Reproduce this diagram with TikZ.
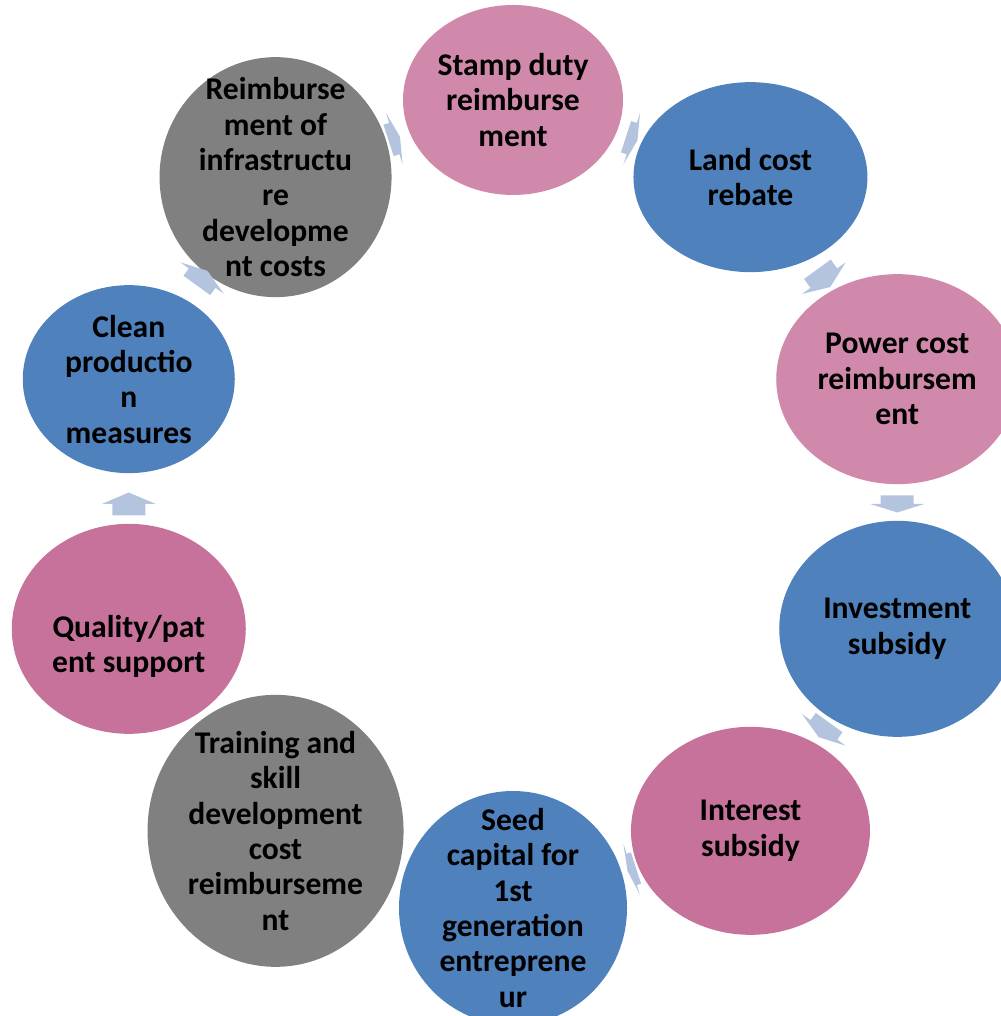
\documentclass[tikz,border=0pt]{standalone}
\usepackage{fontspec}
\setmainfont{Carlito}
\usetikzlibrary{shapes.geometric,calc}

\definecolor{pinklite}{RGB}{208,137,171}
\definecolor{pinkdeep}{RGB}{199,114,155}
\definecolor{bluemid}{RGB}{79,129,189}
\definecolor{greymid}{RGB}{128,128,128}
\definecolor{arrowblue}{RGB}{180,196,223}

\begin{document}
\begin{tikzpicture}[x=0.75pt,y=0.75pt,
  bubble/.style={ellipse, draw=none, inner sep=0pt},
  oval/.style 2 args={minimum width=#1*0.75pt, minimum height=#2*0.75pt},
  caption/.style={align=center, inner sep=0pt, font=\fontsize{23.7}{26.5}\selectfont\bfseries},
  flowarrow/.style={fill=arrowblue, draw=none}]
\useasboundingbox (0,0) rectangle (1000,1016);
\coordinate (hub) at (513,512);

% ring of incentives, clockwise from the top
\node[bubble, fill=pinklite, oval={220}{190}] (stamp)    at ($(hub)+(90:404)$) {};
\node[bubble, fill=bluemid,  oval={234}{190}] (land)     at ($(hub)+(54:404)$) {};
\node[bubble, fill=pinklite, oval={242}{210}] (power)    at ($(hub)+(18:404)$) {};
\node[bubble, fill=bluemid,  oval={236}{216}] (invest)   at ($(hub)+(-18:404)$) {};
\node[bubble, fill=pinkdeep, oval={239}{208}] (interest) at ($(hub)+(-54:404)$) {};
\node[bubble, fill=bluemid,  oval={228}{234}] (seed)     at ($(hub)+(-90:404)$) {};
\node[bubble, fill=greymid,  oval={256}{272}] (train)    at ($(hub)+(-126:404)$) {};
\node[bubble, fill=pinkdeep, oval={234}{210}] (quality)  at ($(hub)+(-162:404)$) {};
\node[bubble, fill=bluemid,  oval={212}{188}] (clean)    at ($(hub)+(162:404)$) {};
\node[bubble, fill=greymid,  oval={232}{240}] (reimb)    at ($(hub)+(126:404)$) {};

% texts
\node[caption] (stamp-t)    at (stamp)    {Stamp duty\\reimburse\\ment};
\node[caption] (land-t)     at (land)     {Land cost\\rebate};
\node[caption] (power-t)    at (power)    {Power cost\\reimbursem\\ent};
\node[caption] (invest-t)   at (invest)   {Investment\\subsidy};
\node[caption] (interest-t) at (interest) {Interest\\subsidy};
\node[caption] (seed-t)     at (seed)     {Seed\\capital for\\1st\\generation\\entreprene\\ur};
\node[caption] (train-t)    at (train)    {Training and\\skill\\development\\cost\\reimburseme\\nt};
\node[caption, yshift=-13pt] (quality-t) at (quality) {Quality/pat\\ent support};
\node[caption] (clean-t)    at (clean)    {Clean\\productio\\n\\measures};
\node[caption] (reimb-t)    at (reimb)    {Reimburse\\ment of\\infrastructu\\re\\developme\\nt costs};

% block arrows between neighbours
\foreach \from/\to/\turn/\len in {reimb/stamp/18/12, stamp/land/-18/12, land/power/-54/22,
    power/invest/-90/17, invest/interest/-126/18, interest/seed/-162/9,
    quality/clean/90/23, clean/reimb/54/18}
  \fill[flowarrow, shift={($(\from)!0.5!(\to)$)}, rotate=\turn]
    (-\len/2,16.5) -- (0,16.5) -- (0,27) -- (\len/2,0) -- (0,-27) -- (0,-16.5) -- (-\len/2,-16.5) -- cycle;
\end{tikzpicture}
\end{document}
